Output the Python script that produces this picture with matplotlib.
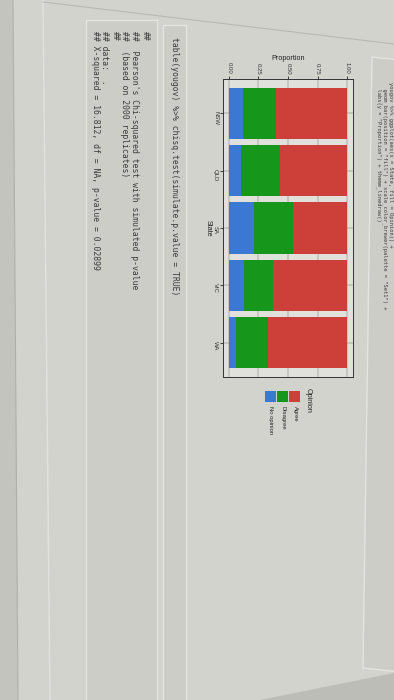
import matplotlib.pyplot as plt
from matplotlib.patches import Rectangle, Polygon
import numpy as np

states = ["NSW", "QLD", "SA", "VIC", "WA"]
no_opinion = [0.12, 0.10, 0.21, 0.13, 0.06]
disagree = [0.28, 0.33, 0.33, 0.24, 0.27]
agree = [0.60, 0.57, 0.46, 0.63, 0.67]
opinions = ["Agree", "Disagree", "No opinion"]
prop_ticks = [0.0, 0.25, 0.5, 0.75, 1.0]
prop_labels = ["0.00", "0.25", "0.50", "0.75", "1.00"]

output_lines = [
    "##",
    "##  Pearson's Chi-squared test with simulated p-value",
    "##  (based on 2000 replicates)",
    "##",
    "## data:  .",
    "## X-squared = 16.812, df = NA, p-value = 0.02899",
]
call_line = "table(yougov) %>% chisq.test(simulate.p.value = TRUE)"
plot_code = [
    "yougov %>% ggplot(aes(x = State, fill = Opinion)) +",
    "  geom_bar(position = \"fill\") + scale_color_brewer(palette = \"Set1\") +",
    "  labs(y = \"Proportion\") + theme_linedraw()",
]

RED = "#cc4039"
GREEN = "#17961c"
BLUE = "#3b78d4"
PAGE = "#d3d3ce"
CHUNK = "#cdcdc8"
INK = "#3c3c3c"
SANS = ["Liberation Sans", "DejaVu Sans"]
MONO = "DejaVu Sans Mono"

fig = plt.figure(figsize=(3.94, 7.0), dpi=100)
fig.patch.set_facecolor(PAGE)

# Background layer in pixel coordinates (photo of the screen, rotated).
bg = fig.add_axes([0, 0, 1, 1], zorder=0)
bg.set_xlim(0, 394)
bg.set_ylim(700, 0)
bg.axis("off")

bg.add_patch(Polygon([(0, 0), (13, 0), (18, 700), (0, 700)], closed=True,
                     facecolor="#c4c4bf", edgecolor="none"))
bg.plot([13, 18], [0, 700], color="#b0b0ab", lw=0.8)
bg.plot([43, 50], [0, 700], color="#e2e2de", lw=1.0)
bg.plot([43, 394], [2, 44], color="#b9b9b4", lw=0.8)
bg.add_patch(Polygon([(260, 700), (394, 673), (394, 700)], closed=True,
                     facecolor="#bdbdb8", edgecolor="none"))

# Code / output chunk boxes.
bg.add_patch(Rectangle((86, 20), 71, 700, facecolor=CHUNK, edgecolor="#e4e4e0", lw=1.0))
bg.add_patch(Rectangle((163, 25), 23, 700, facecolor=CHUNK, edgecolor="#e4e4e0", lw=1.0))
bg.add_patch(Polygon([(372, 57), (400, 60), (400, 672), (363, 668)], closed=True,
                     facecolor=CHUNK, edgecolor="#e4e4e0", lw=1.0))

for x, line in zip([145, 135, 124, 115, 105, 95], output_lines):
    bg.text(x, 31, line, rotation=-90, ha="center", va="top",
            fontsize=5.9, family=MONO, color=INK)
bg.text(174, 37, call_line, rotation=-90, ha="center", va="top",
        fontsize=5.9, family=MONO, color=INK)
for x, line in zip([390.5, 384.5, 378.5], plot_code):
    bg.text(x, 82, line, rotation=-90, ha="center", va="top",
            fontsize=3.9, family=MONO, color=INK)

# Legend drawn by hand so that its text can run sideways like the photo.
bg.text(308, 388, "Opinion", rotation=-90, ha="center", va="top",
        fontsize=5.2, family=SANS, color="#222222")
for x, color, label in zip([295, 283, 271], [RED, GREEN, BLUE], opinions):
    bg.add_patch(Rectangle((x - 5.5, 391), 11, 11, facecolor=color, edgecolor="none"))
    bg.text(x, 406, label, rotation=-90, ha="center", va="top",
            fontsize=4.2, family=SANS, color="#222222")

# Main chart: proportion runs left to right, states top to bottom.
ax = fig.add_axes([223 / 394, 1 - 377 / 700, 130 / 394, 298 / 700], zorder=1)
ax.set_facecolor("#e0e0dc")
pos = np.arange(len(states))
no_opinion = np.array(no_opinion)
disagree = np.array(disagree)
agree = np.array(agree)
ax.barh(pos, no_opinion, height=0.9, color=BLUE, zorder=2)
ax.barh(pos, disagree, left=no_opinion, height=0.9, color=GREEN, zorder=2)
ax.barh(pos, agree, left=no_opinion + disagree, height=0.9, color=RED, zorder=2)

ax.set_xlim(-0.05, 1.05)
ax.set_ylim(len(states) - 0.4, -0.6)
ax.xaxis.tick_top()
ax.xaxis.set_label_position("top")
ax.set_xticks(prop_ticks, labels=prop_labels, rotation=-90,
              fontsize=4.3, family=SANS, color="#333333")
ax.set_yticks(pos, labels=states, rotation=-90,
              fontsize=4.3, family=SANS, color="#333333")
ax.tick_params(length=2, width=0.5, pad=1.5)
ax.grid(True, color="#444444", lw=0.25, zorder=1)
ax.set_xlabel("Proportion", fontsize=5.2, family=SANS, color="#222222", labelpad=2)
ax.set_ylabel("State", fontsize=5.2, family=SANS, color="#222222",
              rotation=-90, labelpad=6)
for spine in ax.spines.values():
    spine.set_linewidth(0.7)
    spine.set_color("#333333")

fig.savefig("out.png", dpi=100, facecolor=fig.get_facecolor())
